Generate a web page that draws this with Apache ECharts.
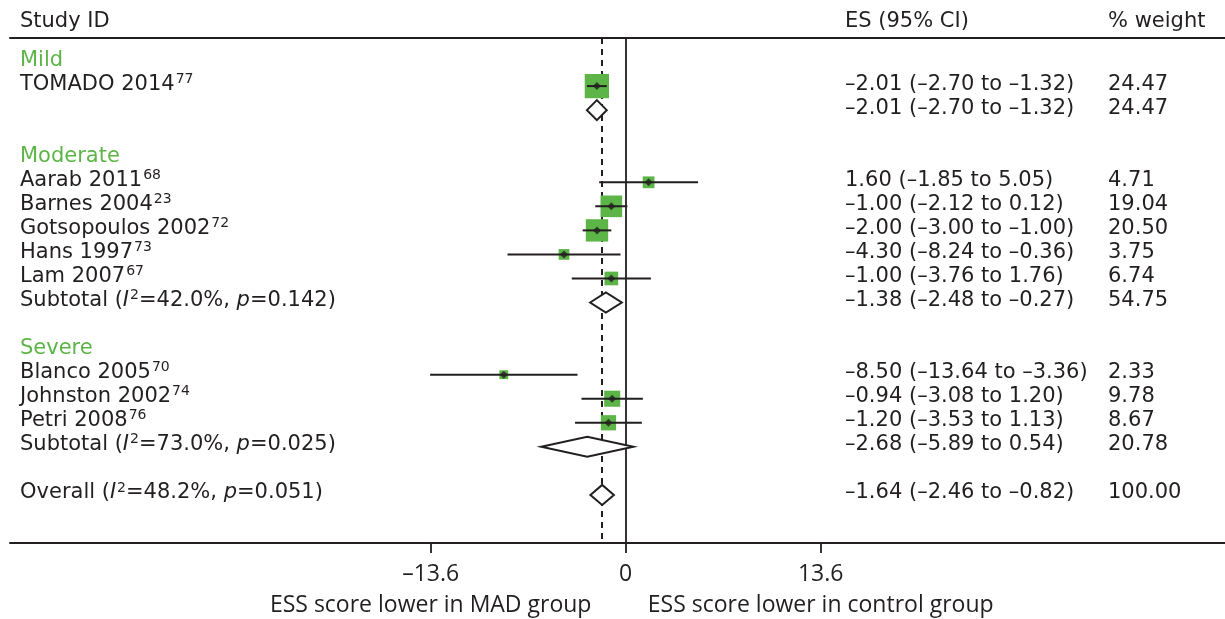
<!DOCTYPE html>
<html>
<head>
<meta charset="utf-8">
<script src="https://cdn.jsdelivr.net/npm/echarts@6/dist/echarts.min.js"></script>
<style>html,body{margin:0;padding:0;background:#fff}#c{width:1225px;height:619px}</style>
</head>
<body>
<div id="c"></div>
<script>
// ---- data ----
const groupNames = ['Mild', 'Moderate', 'Severe'];
const studyNames = ['TOMADO 2014', 'Aarab 2011', 'Barnes 2004', 'Gotsopoulos 2002', 'Hans 1997', 'Lam 2007', 'Blanco 2005', 'Johnston 2002', 'Petri 2008'];
const studyRefs = ['77', '68', '23', '72', '73', '67', '70', '74', '76'];
const studyGroup = [0, 1, 1, 1, 1, 1, 2, 2, 2];
const studyES = [-2.01, 1.60, -1.00, -2.00, -4.30, -1.00, -8.50, -0.94, -1.20];
const studyLo = [-2.70, -1.85, -2.12, -3.00, -8.24, -3.76, -13.64, -3.08, -3.53];
const studyHi = [-1.32, 5.05, 0.12, -1.00, -0.36, 1.76, -3.36, 1.20, 1.13];
const studyWeight = [24.47, 4.71, 19.04, 20.50, 3.75, 6.74, 2.33, 9.78, 8.67];
const subES = [-2.01, -1.38, -2.68];
const subLo = [-2.70, -2.48, -5.89];
const subHi = [-1.32, -0.27, 0.54];
const subWeight = [24.47, 54.75, 20.78];
const subI2 = [null, '42.0', '73.0'];
const subP = [null, '0.142', '0.025'];
const overallES = -1.64, overallLo = -2.46, overallHi = -0.82, overallWeight = 100.00;
const overallI2 = '48.2', overallP = '0.051';
const xTickValues = [-13.6, 0, 13.6];
const xTickLabels = ['–13.6', '0', '13.6'];
const xSideTitles = ['ESS score lower in MAD group', '', 'ESS score lower in control group'];
const headers = ['Study ID', 'ES (95% CI)', '% weight'];

// ---- layout / style ----
const INK = '#231f20';
const GREEN = '#5db548';
const FONT = '"DejaVu Sans", "Open Sans", sans-serif';
const AXFONT = '"Open Sans", "Noto Sans", sans-serif';
const FS = 21;
const colX = [20, 845, 1108];
const headerRow = -1.6;

const fmt = v => (v < 0 ? '–' : '') + Math.abs(v).toFixed(2);
const ciText = (e, l, h) => `${fmt(e)} (${fmt(l)} to ${fmt(h)})`;

// build rows
const studyRows = [], subRows = [], headRows = [];
let r = 0;
for (let g = 0; g < groupNames.length; g++) {
  headRows.push(r); r++;
  for (let i = 0; i < studyNames.length; i++) if (studyGroup[i] === g) { studyRows[i] = r; r++; }
  subRows.push(r); r += 2;
}
const overallRow = r;

// text items: [row, col, richText]
const texts = [];
headers.forEach((h, i) => texts.push([headerRow, i, h]));
groupNames.forEach((g, i) => texts.push([headRows[i], 0, `{g|${g}}`]));
studyNames.forEach((s, i) => {
  texts.push([studyRows[i], 0, `${s}{sup|${studyRefs[i]}}`]);
  texts.push([studyRows[i], 1, ciText(studyES[i], studyLo[i], studyHi[i])]);
  texts.push([studyRows[i], 2, studyWeight[i].toFixed(2)]);
});
subES.forEach((e, i) => {
  if (subI2[i] !== null) texts.push([subRows[i], 0, `Subtotal ({it|I}{sup|2}=${subI2[i]}%, {it|p}=${subP[i]})`]);
  texts.push([subRows[i], 1, ciText(e, subLo[i], subHi[i])]);
  texts.push([subRows[i], 2, subWeight[i].toFixed(2)]);
});
texts.push([overallRow, 0, `Overall ({it|I}{sup|2}=${overallI2}%, {it|p}=${overallP})`]);
texts.push([overallRow, 1, ciText(overallES, overallLo, overallHi)]);
texts.push([overallRow, 2, overallWeight.toFixed(2)]);

const diamonds = subES.map((e, i) => [e, subRows[i], subLo[i], subHi[i]]);
diamonds.push([overallES, overallRow, overallLo, overallHi]);

const studyPts = studyES.map((e, i) => [e, studyRows[i], studyWeight[i]]);
const ciLines = studyES.map((e, i) => [studyLo[i], studyRows[i], studyHi[i]]);

const chart = echarts.init(document.getElementById('c'), null, { renderer: 'canvas' });

const rich = {
  g: { fontSize: FS, fontFamily: FONT, fill: GREEN, lineHeight: 24 },
  it: { fontSize: FS, fontFamily: FONT, fontStyle: 'italic', fill: INK, lineHeight: 24 },
  sup: { fontSize: 14, fontFamily: FONT, fill: INK, verticalAlign: 'top', lineHeight: 6, padding: [0, 0, 0, 1] }
};

chart.setOption({
  animation: false,
  grid: { left: 10, right: 0, top: 38, bottom: 76, containLabel: false },
  xAxis: [
    {
      type: 'value', min: -42.94, max: 41.80, position: 'bottom',
      axisLine: { show: true, onZero: false, lineStyle: { color: INK, width: 2 } },
      axisTick: { show: true, customValues: xTickValues, length: 10, lineStyle: { color: INK, width: 1.8 } },
      axisLabel: {
        show: true, customValues: xTickValues, margin: 16,
        formatter: v => {
          const i = xTickValues.findIndex(t => Math.abs(t - v) < 1e-6);
          if (i < 0) return '';
          return xSideTitles[i] ? `{t|${xTickLabels[i]}}\n{s|${xSideTitles[i]}}` : `{t|${xTickLabels[i]}}`;
        },
        rich: {
          t: { fontSize: 23, fontFamily: AXFONT, color: INK, lineHeight: 30 },
          s: { fontSize: 23, fontFamily: AXFONT, color: INK, lineHeight: 32 }
        }
      },
      splitLine: { show: false }
    },
    {
      type: 'value', min: -42.94, max: 41.80, position: 'top',
      axisLine: { show: true, onZero: false, lineStyle: { color: INK, width: 2 } },
      axisTick: { show: false }, axisLabel: { show: false }, splitLine: { show: false }
    }
  ],
  yAxis: { type: 'value', min: -1, max: 20, inverse: true, show: false },
  series: [
    {
      type: 'scatter', name: 'squares', data: studyPts, z: 2,
      symbol: 'rect', symbolSize: d => 4.5 * Math.sqrt(d[2]) + 2,
      itemStyle: { color: GREEN, opacity: 1 },
      markLine: {
        silent: true, symbol: 'none', label: { show: false }, z: 1,
        data: [
          { xAxis: 0, lineStyle: { color: INK, width: 1.8, type: 'solid' } },
          { xAxis: overallES, lineStyle: { color: INK, width: 2, type: [6, 5] } }
        ]
      }
    },
    {
      type: 'custom', name: 'ci', data: ciLines, z: 3,
      renderItem: (params, api) => {
        const a = api.coord([api.value(0), api.value(1)]);
        const b = api.coord([api.value(2), api.value(1)]);
        return { type: 'line', shape: { x1: a[0], y1: a[1], x2: b[0], y2: b[1] }, style: { stroke: INK, lineWidth: 2 } };
      }
    },
    {
      type: 'scatter', name: 'points', data: studyPts.map(d => [d[0], d[1]]), z: 4,
      symbol: 'diamond', symbolSize: 8, itemStyle: { color: INK }
    },
    {
      type: 'custom', name: 'diamonds', data: diamonds, z: 4,
      renderItem: (params, api) => {
        const c = api.coord([api.value(0), api.value(1)]);
        const l = api.coord([api.value(2), api.value(1)]);
        const h = api.coord([api.value(3), api.value(1)]);
        const hh = 10;
        return {
          type: 'polygon',
          shape: { points: [[l[0], c[1]], [c[0], c[1] - hh], [h[0], c[1]], [c[0], c[1] + hh]] },
          style: { fill: '#fff', stroke: INK, lineWidth: 2 }
        };
      }
    },
    {
      type: 'custom', name: 'texts', data: texts.map(t => [t[0], t[1]]), z: 5, silent: true,
      renderItem: (params, api) => {
        const t = texts[params.dataIndex];
        const y = api.coord([0, t[0]])[1] - 2;
        return {
          type: 'text', x: colX[t[1]], y: y,
          style: { text: t[2], fill: INK, fontSize: FS, fontFamily: FONT, verticalAlign: 'middle', align: 'left', rich: rich, lineHeight: 24 }
        };
      }
    }
  ]
});
</script>
</body>
</html>
